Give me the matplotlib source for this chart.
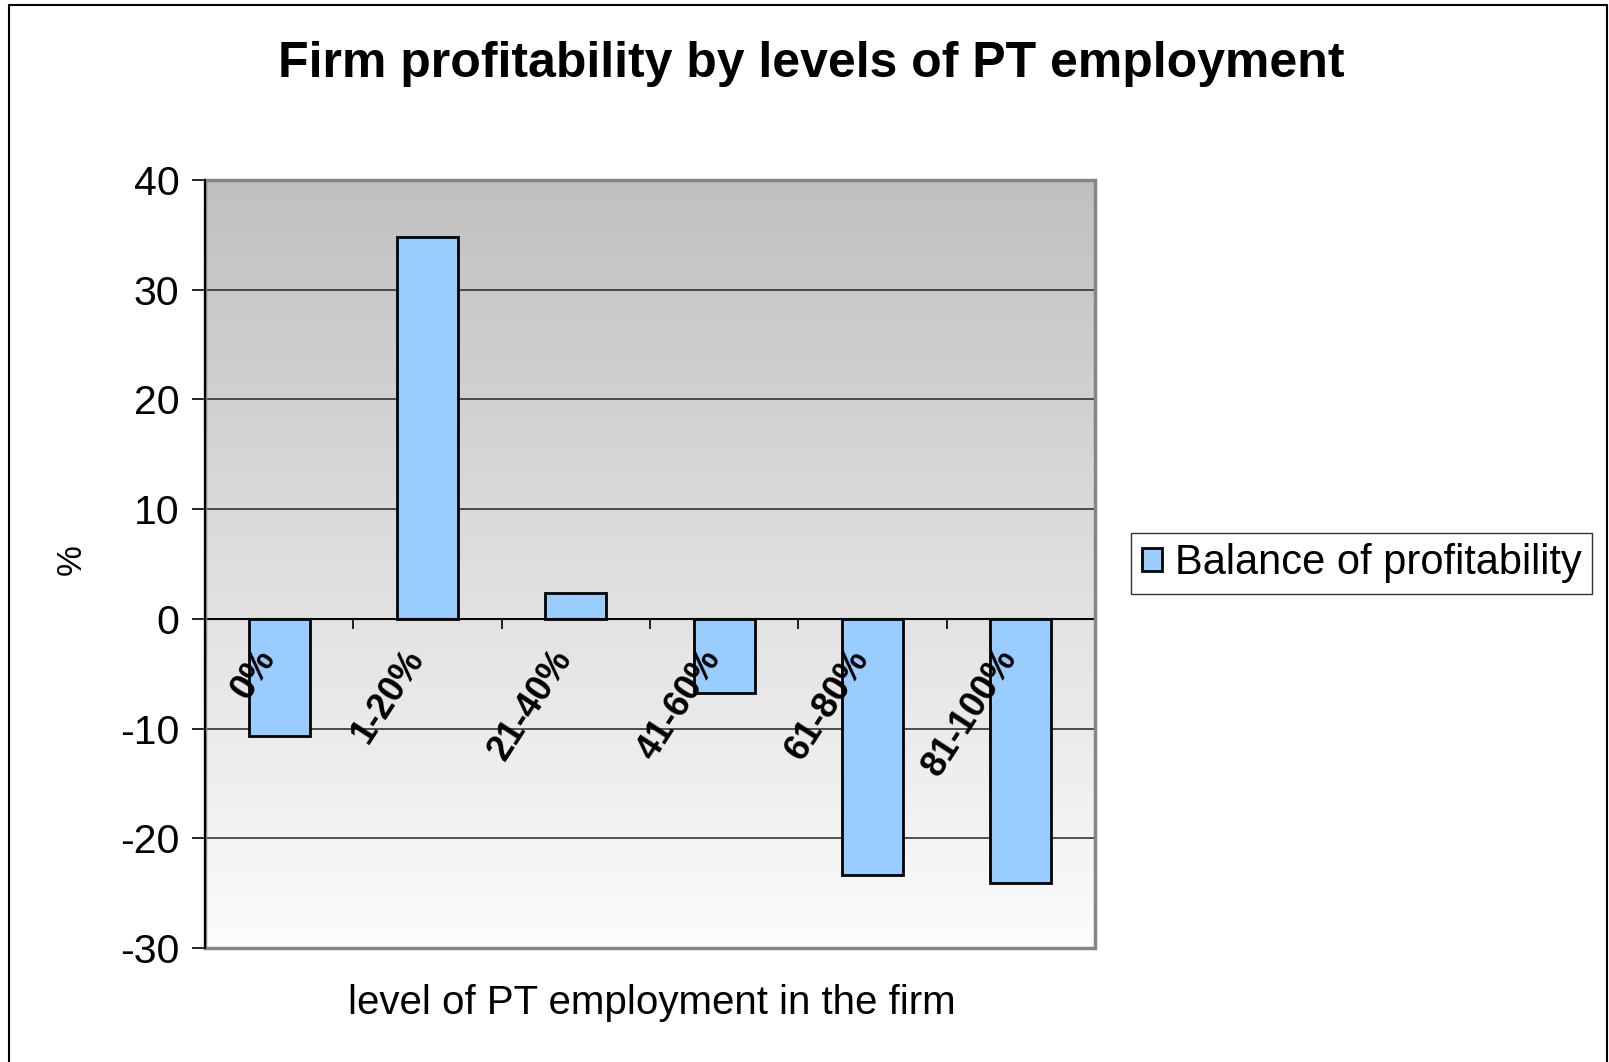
import numpy as np
import matplotlib
matplotlib.use('Agg')
import matplotlib.pyplot as plt
import matplotlib.transforms as mtransforms
from matplotlib.patches import Rectangle, Patch

plt.rcParams['font.family'] = ['Liberation Sans', 'DejaVu Sans']
plt.rcParams['axes.unicode_minus'] = False

# data
categories = ['0%', '1-20%', '21-40%', '41-60%', '61-80%', '81-100%']
balance = [-10.7, 34.8, 2.4, -6.8, -23.3, -24.1]
series_name = 'Balance of profitability'
y_ticks = [-30, -20, -10, 0, 10, 20, 30, 40]

fig = plt.figure(figsize=(16.09, 10.62), dpi=100)
ax = fig.add_axes([0.1274, 0.1073, 0.5532, 0.7232])

x = np.arange(len(categories))

# grey gradient background of the plot area
grad = np.linspace(0, 1, 256).reshape(-1, 1)
ax.imshow(grad, cmap=matplotlib.colors.LinearSegmentedColormap.from_list('bg', ['#c0c0c0', '#fcfcfc']),
          aspect='auto', extent=[0, 1, 0, 1], transform=ax.transAxes, zorder=0)

ax.set_xlim(-0.5, len(categories) - 0.5)
ax.set_ylim(-30, 40)

for yv in y_ticks:
    ax.axhline(yv, color='#333333', lw=1.2, zorder=1)

ax.bar(x, balance, width=0.41, color='#99ccff', edgecolor='black', linewidth=2,
       label=series_name, zorder=2)
# axis (and its labels) drawn on top of the bars
ax.set_axisbelow(False)

# plot area border
ax.add_patch(Rectangle((0, 0), 1, 1, transform=ax.transAxes, fill=False,
                       edgecolor='#858585', lw=2.5, zorder=4, clip_on=False))

for s in ['top', 'right']:
    ax.spines[s].set_visible(False)
ax.spines['left'].set_color('black')
ax.spines['left'].set_linewidth(1.5)
ax.spines['left'].set_zorder(5)
ax.spines['bottom'].set_position(('data', 0))
ax.spines['bottom'].set_color('black')
ax.spines['bottom'].set_linewidth(1.5)

ax.set_yticks(y_ticks)
ax.tick_params(axis='y', length=9.5, width=1.2, pad=9, labelsize=29.5)

# ticks at category boundaries, labels at centres
ax.set_xticks(np.arange(len(categories) + 1) - 0.5)
ax.set_xticklabels([])
ax.tick_params(axis='x', which='major', direction='out', length=7, width=1.2)
ax.set_xticks(x, categories, minor=True)
ax.tick_params(axis='x', which='minor', length=0, pad=17, labelsize=26)
shift = mtransforms.ScaledTranslation(-26 / 100, 0, fig.dpi_scale_trans)
for lab in ax.get_xticklabels(minor=True):
    lab.set_rotation(57)
    lab.set_ha('right')
    lab.set_va('top')
    lab.set_rotation_mode('anchor')
    lab.set_fontweight('bold')
    lab.set_transform(lab.get_transform() + shift)

fig.text(0.504, 0.94, 'Firm profitability by levels of PT employment',
         ha='center', va='center', fontsize=36, fontweight='bold')
fig.text(0.405, 0.056, 'level of PT employment in the firm', ha='center', va='center', fontsize=29)
fig.text(0.044, 0.473, '%', rotation=90, ha='center', va='center', fontsize=25)

handle = Patch(facecolor='#99ccff', edgecolor='black', linewidth=2)
leg = fig.legend([handle], [series_name], loc='center left', bbox_to_anchor=(0.703, 0.4695),
                 fontsize=30, frameon=True, fancybox=False, edgecolor='black',
                 handlelength=0.5, handleheight=0.5, handletextpad=0.3,
                 borderpad=0.25, borderaxespad=0)
leg.get_frame().set_linewidth(1.0)

# outer chart border
fig.patches.append(Rectangle((9 / 1609, -0.02), 1598 / 1609, 1.02 - 5 / 1062,
                             transform=fig.transFigure, fill=False, edgecolor='black', lw=1.5))

fig.savefig('out.png', dpi=100)
